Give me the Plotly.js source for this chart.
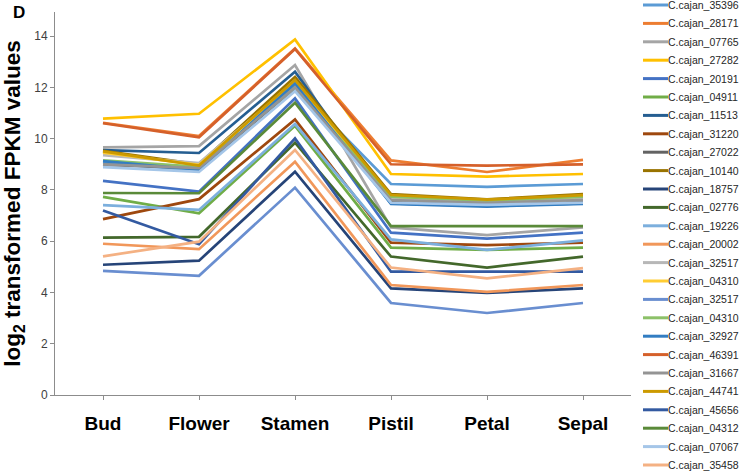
<!DOCTYPE html>
<html><head><meta charset="utf-8">
<script src="https://cdn.plot.ly/plotly-3.0.1.min.js"></script>
<style>html,body{margin:0;padding:0;background:#fff}#chart{width:742px;height:475px}</style>
</head><body><div id="chart"></div>
<script>
const categories = ["Bud","Flower","Stamen","Pistil","Petal","Sepal"];
const seriesNames = ["C.cajan_35396","C.cajan_28171","C.cajan_07765","C.cajan_27282","C.cajan_20191","C.cajan_04911","C.cajan_11513","C.cajan_31220","C.cajan_27022","C.cajan_10140","C.cajan_18757","C.cajan_02776","C.cajan_19226","C.cajan_20002","C.cajan_32517","C.cajan_04310","C.cajan_32517","C.cajan_04310","C.cajan_32927","C.cajan_46391","C.cajan_31667","C.cajan_44741","C.cajan_45656","C.cajan_04312","C.cajan_07067","C.cajan_35458"];
const s01 = [9.05, 8.75, 12.05, 8.23, 8.12, 8.23];
const s02 = [10.62, 10.10, 13.52, 9.15, 8.70, 9.17];
const s03 = [9.66, 9.71, 12.87, 6.54, 6.24, 6.54];
const s04 = [10.78, 10.97, 13.87, 8.62, 8.52, 8.62];
const s05 = [8.35, 7.93, 11.57, 6.33, 6.10, 6.33];
const s06 = [7.73, 7.09, 10.50, 5.75, 5.66, 5.75];
const s07 = [9.55, 9.44, 12.61, 7.47, 7.38, 7.47];
const s08 = [6.86, 7.64, 10.75, 5.94, 5.85, 5.94];
const s09 = [8.98, 8.85, 11.95, 7.55, 7.45, 7.55];
const s10 = [9.52, 9.00, 12.41, 7.84, 7.63, 7.84];
const s11 = [5.08, 5.24, 8.71, 4.16, 3.98, 4.16];
const s12 = [6.14, 6.17, 9.84, 5.40, 4.97, 5.40];
const s13 = [7.41, 7.22, 10.57, 6.07, 5.66, 6.03];
const s14 = [5.90, 5.69, 9.10, 4.29, 4.02, 4.29];
const s15 = [9.36, 9.05, 12.20, 7.65, 7.55, 7.65];
const s16 = [9.45, 8.98, 12.25, 7.75, 7.60, 7.75];
const s17 = [4.84, 4.65, 8.09, 3.59, 3.20, 3.59];
const s18 = [9.15, 8.90, 12.00, 7.74, 7.58, 7.74];
const s19 = [9.12, 8.78, 12.15, 7.45, 7.35, 7.45];
const s20 = [10.60, 10.05, 13.50, 9.00, 8.95, 9.00];
const s21 = [9.00, 8.85, 12.00, 7.60, 7.50, 7.60];
const s22 = [9.50, 8.95, 12.29, 7.80, 7.62, 7.80];
const s23 = [7.20, 5.88, 10.01, 4.81, 4.81, 4.81];
const s24 = [7.88, 7.87, 11.40, 6.59, 6.59, 6.59];
const s25 = [8.89, 8.70, 11.85, 7.50, 7.42, 7.50];
const s26 = [5.41, 5.98, 9.56, 4.97, 4.55, 4.95];
const yTicks = [0,2,4,6,8,10,12,14];

const seriesValues = [s01,s02,s03,s04,s05,s06,s07,s08,s09,s10,s11,s12,s13,s14,s15,s16,s17,s18,s19,s20,s21,s22,s23,s24,s25,s26];
const colors = ["#5B9BD5","#ED7D31","#A5A5A5","#FFC000","#4472C4","#70AD47","#255E91","#9E480E","#636363","#997300","#264478","#43682B","#7CAFDD","#F1975A","#B7B7B7","#FFCD33","#698ED0","#8CC168","#327DC2","#D5602A","#949494","#CC9A00","#335AA1","#5A8A39","#A5C6E8","#F4B183"];

const FONT = "Liberation Sans, Arial, sans-serif";
const traces = seriesValues.map((v,i)=>({
  type:"scatter", mode:"lines", x:categories, y:v, name:seriesNames[i],
  line:{color:colors[i], width:2.7}, showlegend:false, hoverinfo:"skip"
}));

const W=742, H=475, ML=55, MR=111, MT=12, MB=80;
const PW = W-ML-MR, PH = H-MT-MB;
const px2x = px => (px-ML)/PW;
const py2y = py => (H-MB-py)/PH;
const annotations = [];
const shapes = [];
const legTop = 5, legStep = 18.4;
seriesNames.forEach((n,i)=>{
  const yPx = legTop + i*legStep;
  shapes.push({type:"line", xref:"paper", yref:"paper", layer:"above",
    x0:px2x(643), x1:px2x(668), y0:py2y(yPx), y1:py2y(yPx),
    line:{color:colors[i], width:3}});
  annotations.push({xref:"paper", yref:"paper", x:px2x(668), y:py2y(yPx),
    xanchor:"left", yanchor:"middle", showarrow:false, text:n, borderpad:0, borderwidth:0,
    font:{family:FONT, size:10.5, color:"#262626"}});
});
annotations.push({xref:"paper", yref:"paper", x:px2x(11), y:py2y(12),
  xanchor:"left", yanchor:"middle", showarrow:false, text:"<b>D</b>",
  font:{family:FONT, size:17, color:"#000"}});

const layout = {
  width:W, height:H,
  margin:{l:ML, r:MR, t:MT, b:MB, pad:0},
  paper_bgcolor:"#fff", plot_bgcolor:"#fff",
  font:{family:FONT, color:"#000"},
  showlegend:false,
  xaxis:{
    type:"category", range:[-0.5,5.5], showgrid:false, zeroline:false,
    showline:true, linecolor:"#8c8c8c", linewidth:1,
    ticks:"outside", ticklen:4, tickcolor:"#8c8c8c", ticklabelstandoff:7,
    tickfont:{family:FONT, size:19, color:"#000", weight:"bold"},
    fixedrange:true
  },
  yaxis:{
    range:[0,14.94], tickvals:yTicks, showgrid:false, zeroline:false,
    showline:true, linecolor:"#8c8c8c", linewidth:1,
    ticks:"outside", ticklen:4, tickcolor:"#8c8c8c",
    tickfont:{family:FONT, size:12, color:"#404040"},
    title:{text:"<b>log<sub>2</sub> transformed FPKM values</b>", font:{family:FONT, size:22.5, color:"#000"}, standoff:10},
    fixedrange:true
  },
  annotations:annotations,
  shapes:shapes
};
Plotly.newPlot("chart", traces, layout, {displayModeBar:false, staticPlot:true});
</script></body></html>
